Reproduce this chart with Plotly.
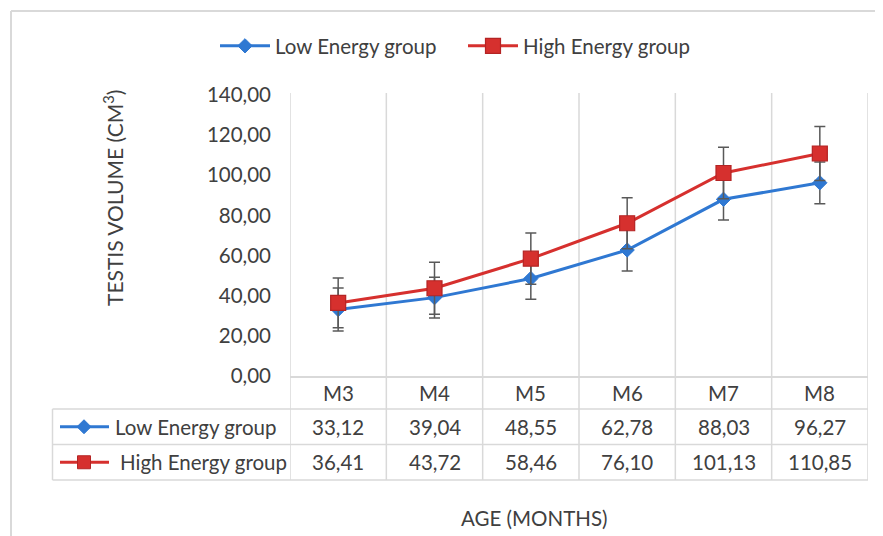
import plotly.graph_objects as go

# ---- data ----
categories = ["M3", "M4", "M5", "M6", "M7", "M8"]
low_energy = [33.12, 39.04, 48.55, 62.78, 88.03, 96.27]
high_energy = [36.41, 43.72, 58.46, 76.10, 101.13, 110.85]
low_sd = [10.7, 10.2, 10.3, 10.5, 10.3, 10.4]
high_sd = [12.4, 13.0, 12.8, 12.7, 12.8, 13.4]
series_names = ["Low Energy group", "High Energy group"]
y_title = "TESTIS VOLUME (CM<sup>3</sup>)"
x_title = "AGE (MONTHS)"

# ---- style ----
OFF = 8  # default page body margin
W, H = 883 - OFF, 536 - OFF
PL, PR, PT, PB = 290, 868, 95, 376  # plot area in screen pixels
FONT = "Lato"
FS = 20.5
TXT = "#404040"
GRID = "#d9d9d9"
BLUE = "#2f78d2"
RED = "#d6302e"
RED_EDGE = "#b42424"
ERR = "#595959"


def px(x):
    return (x - PL) / (PR - PL)


def py(y):
    return (PB - y) / (PB - PT)


def fmt(v):
    return f"{v:.2f}".replace(".", ",")


fig = go.Figure()
fig.add_trace(go.Scatter(
    x=categories, y=low_energy, name=series_names[0], mode="lines+markers",
    line=dict(color=BLUE, width=3),
    marker=dict(symbol="diamond", size=11, color=BLUE, line=dict(color=BLUE, width=1)),
    error_y=dict(type="data", array=low_sd, color=ERR, thickness=1.5, width=5.5),
))
fig.add_trace(go.Scatter(
    x=categories, y=high_energy, name=series_names[1], mode="lines+markers",
    line=dict(color=RED, width=3),
    marker=dict(symbol="square", size=15, color=RED, line=dict(color=RED_EDGE, width=1.2)),
    error_y=dict(type="data", array=high_sd, color=ERR, thickness=1.5, width=5.5),
))

shapes = []
# outer chart border (left & top)
shapes.append(dict(type="line", xref="paper", yref="paper", x0=px(11), x1=px(890),
                   y0=py(11), y1=py(11), line=dict(color=GRID, width=2)))
shapes.append(dict(type="line", xref="paper", yref="paper", x0=px(11), x1=px(11),
                   y0=py(11), y1=py(545), line=dict(color=GRID, width=2)))

ROW_TOP, ROW1, ROW2, ROW3 = PB, 409, 444.5, 480
TABLE_L = 52.5
# vertical category boundaries (through plot and table)
for i in range(len(categories) + 1):
    shapes.append(dict(type="line", xref="x", yref="paper", x0=i - 0.5, x1=i - 0.5,
                       y0=py(ROW3), y1=py(93), line=dict(color=GRID, width=1.5), layer="below"))
# table horizontal lines
for yy in (ROW1, ROW2, ROW3):
    shapes.append(dict(type="line", xref="paper", yref="paper", x0=px(TABLE_L), x1=1,
                       y0=py(yy), y1=py(yy), line=dict(color=GRID, width=1.5), layer="below"))
shapes.append(dict(type="line", xref="paper", yref="paper", x0=px(TABLE_L), x1=px(TABLE_L),
                   y0=py(ROW1), y1=py(ROW3), line=dict(color=GRID, width=1.5), layer="below"))

# table legend keys
row_centers = [(ROW1 + ROW2) / 2, (ROW2 + ROW3) / 2]
key_colors = [BLUE, RED]
for rc, col in zip(row_centers, key_colors):
    shapes.append(dict(type="line", xref="paper", yref="paper", x0=px(60), x1=px(109),
                       y0=py(rc), y1=py(rc), line=dict(color=col, width=3)))
# diamond
cx, cy, r = 84, row_centers[0], 7
path = (f"M {px(cx)},{py(cy - r)} L {px(cx + r)},{py(cy)} L {px(cx)},{py(cy + r)} "
        f"L {px(cx - r)},{py(cy)} Z")
shapes.append(dict(type="path", xref="paper", yref="paper", path=path,
                   fillcolor=BLUE, line=dict(color=BLUE, width=1)))
cy, r = row_centers[1], 6.5
shapes.append(dict(type="rect", xref="paper", yref="paper", x0=px(cx - r), x1=px(cx + r),
                   y0=py(cy + r), y1=py(cy - r), fillcolor=RED, line=dict(color=RED_EDGE, width=1)))

annotations = []
# category labels row
for i, c in enumerate(categories):
    annotations.append(dict(x=i, y=py((ROW_TOP + ROW1) / 2), xref="x", yref="paper", text=c,
                            showarrow=False, font=dict(family=FONT, size=FS, color=TXT),
                            xanchor="center", yanchor="middle"))
# value rows
for vals, rc in zip([low_energy, high_energy], row_centers):
    for i, v in enumerate(vals):
        annotations.append(dict(x=i, y=py(rc), xref="x", yref="paper", text=fmt(v),
                                showarrow=False, font=dict(family=FONT, size=FS, color=TXT),
                                xanchor="center", yanchor="middle"))
annotations.append(dict(x=px(113), y=py(row_centers[0]), xref="paper", yref="paper",
                        text=series_names[0], showarrow=False,
                        font=dict(family=FONT, size=FS, color=TXT), xanchor="left", yanchor="middle"))
annotations.append(dict(x=px(118), y=py(row_centers[1]), xref="paper", yref="paper",
                        text=series_names[1], showarrow=False,
                        font=dict(family=FONT, size=FS, color=TXT), xanchor="left", yanchor="middle"))
# axis titles
annotations.append(dict(x=px(113), y=py(198), xref="paper", yref="paper", text=y_title,
                        textangle=-90, showarrow=False,
                        font=dict(family=FONT, size=21, color=TXT), xanchor="center", yanchor="middle"))
annotations.append(dict(x=px(534), y=py(518), xref="paper", yref="paper", text=x_title,
                        showarrow=False, font=dict(family=FONT, size=FS, color=TXT),
                        xanchor="center", yanchor="middle"))

fig.update_layout(
    width=W, height=H,
    margin=dict(l=PL - OFF, r=883 - PR, t=PT - OFF, b=536 - PB, pad=0),
    paper_bgcolor="white", plot_bgcolor="white",
    separators=",.",
    font=dict(family=FONT, size=FS, color=TXT),
    showlegend=True,
    legend=dict(orientation="h", x=px(215), xanchor="left", y=py(46), yanchor="middle",
                itemwidth=50, entrywidth=183, font=dict(family=FONT, size=FS, color=TXT),
                bgcolor="rgba(0,0,0,0)"),
    shapes=shapes,
    annotations=annotations,
    xaxis=dict(type="category", range=[-0.5, len(categories) - 0.5], showgrid=False,
               showticklabels=False, showline=True, linecolor=GRID, linewidth=1.5,
               ticks="", zeroline=False, fixedrange=True),
    yaxis=dict(range=[0, 140], dtick=20, tickformat=".2f", showgrid=False, zeroline=False,
               showline=False, ticks="", ticklabelstandoff=18,
               tickfont=dict(family=FONT, size=FS, color=TXT), fixedrange=True),
)

fig.write_html("out.html")
